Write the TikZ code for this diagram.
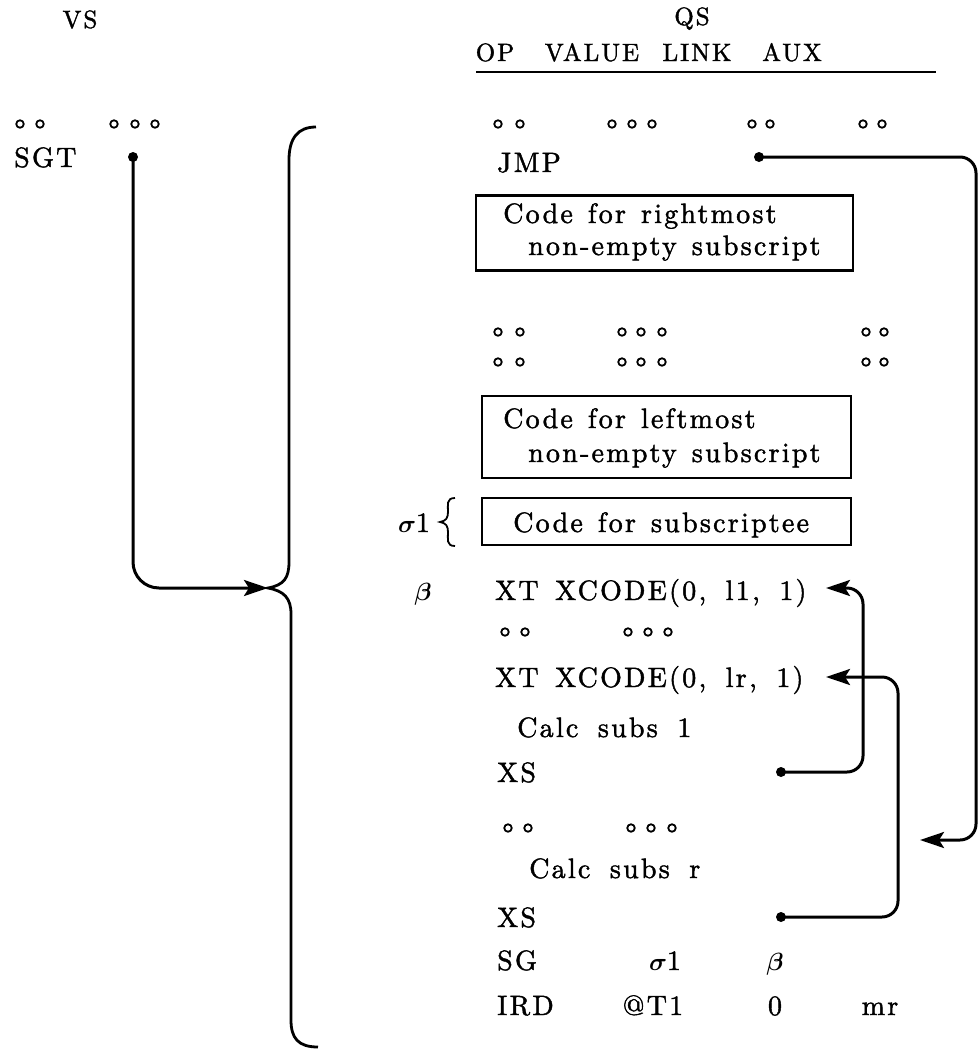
\documentclass[tikz,border=0pt]{standalone}
\usepackage{fontspec}
\setmainfont{lmroman10-regular.otf}[LetterSpace=8,WordSpace=1.3,FakeBold=1.5]
\usetikzlibrary{arrows.meta}
\begin{document}
\begin{tikzpicture}[x=1pt,y=-1pt,
  txt/.style={inner sep=0pt, font=\fontsize{28}{32}\selectfont\boldmath, anchor=base},
  txl/.style={txt, anchor=base west},
  hdr/.style={inner sep=0pt, font=\fontsize{25}{30}\selectfont, anchor=base},
  dotc/.style={circle, draw, fill=white, line width=1.8pt, inner sep=0pt, minimum size=7.5pt},
  blob/.style={circle, fill=black, inner sep=0pt, minimum size=10pt},
  boxst/.style={draw, line width=2.3pt, inner sep=0pt},
  conn/.style={line width=3pt},
  tip/.style={-{Stealth[length=24pt,width=16pt,inset=5pt]}}]
\useasboundingbox (0,0) rectangle (980,1050);

% headers
\node[hdr] (vs) at (80,28) {VS};
\node[hdr] (qs) at (692,25) {QS};
\node[hdr] (hop) at (495,61) {OP};
\node[hdr] (hval) at (592,61) {VALUE};
\node[hdr] (hlink) at (697,61) {LINK};
\node[hdr] (haux) at (792,61) {AUX};
\draw[line width=2pt] (476,72) -- (936,72);

% dot rows
\foreach \x [count=\i] in {20,40,114,135,155,498,520,612,632,652,752,770,863,882}
  \node[dotc] (da\i) at (\x,124) {};
\foreach \x [count=\i] in {498,520,622,641,662,866,884}
  {\node[dotc] (db\i) at (\x,332) {};
   \node[dotc] (dc\i) at (\x,362) {};}
\foreach \x [count=\i] in {505,525,628,648,668}
  \node[dotc] (dd\i) at (\x,632) {};
\foreach \x [count=\i] in {508,528,631,651,672}
  \node[dotc] (de\i) at (\x,828) {};

% VS entries
\node[txl] (sgt) at (14,167) {SGT};
\node[blob] (sgtd) at (133,157) {};

% QS entries
\node[txl] (jmp) at (497,172) {JMP};
\node[blob] (jd) at (759,157) {};

\node[boxst, minimum width=377pt, minimum height=75pt] (b1) at (664.5,233) {};
\node[txl] (b1a) at (503,223) {Code for rightmost};
\node[txl] (b1b) at (528,255) {non-empty subscript};

\node[boxst, minimum width=369pt, minimum height=82pt] (b2) at (666.5,437) {};
\node[txl] (b2a) at (503,428) {Code for leftmost};
\node[txl] (b2b) at (528,462) {non-empty subscript};

\node[boxst, minimum width=369pt, minimum height=47pt] (b3) at (666.5,521.5) {};
\node[txl] (b3a) at (513,532) {Code for subscriptee};
\node[txt] (sig) at (414,532) {$\sigma$1};
\draw[line width=1.8pt] (455,498) .. controls (446,498) and (448,505) .. (448,512)
  .. controls (448,518) and (446,521) .. (440,522)
  .. controls (446,523) and (448,526) .. (448,532)
  .. controls (448,539) and (446,546) .. (455,546);

\node[txt] (beta) at (423,600) {$\beta$};
\node[txl] (xt1) at (495,600) {XT};
\node[txl] (xc1) at (555,600) {XCODE(0, l1, 1)};
\node[txl] (xt2) at (495,687) {XT};
\node[txl] (xc2) at (555,687) {XCODE(0, lr, 1)};
\node[txl] (cs1) at (517,737) {Calc subs 1};
\node[txl] (xs1) at (497,782) {XS};
\node[blob] (x1d) at (781,772) {};
\node[txl] (csr) at (529,878) {Calc subs r};
\node[txl] (xs2) at (497,927) {XS};
\node[blob] (x2d) at (781,917) {};
\node[txl] (sg) at (497,970) {SG};
\node[txt] (sgv) at (665,970) {$\sigma$1};
\node[txt] (sgl) at (775,970) {$\beta$};
\node[txl] (ird) at (497,1015) {IRD};
\node[txt] (irv) at (653,1015) {@T1};
\node[txt] (irl) at (775,1015) {0};
\node[txt] (ira) at (880,1015) {mr};

% big brace
\coordinate (bt) at (268,588);
\draw[line width=2.8pt] (316,127) .. controls (298,127) and (289,138) .. (289,160)
  -- (289,562) .. controls (289,578) and (284,585) .. (bt)
  .. controls (284,591) and (291,598) .. (291,614)
  -- (291,1020) .. controls (291,1038) and (298,1047) .. (318,1047);

% connectors
\draw[conn, tip] (sgtd.center) [rounded corners=26pt] |- (bt);

\coordinate (r1) at (976,840);
\coordinate (ja) at (920,840);
\draw[conn, tip] (jd.center) [rounded corners=16pt] -| (r1) [sharp corners] -- (ja);

\coordinate (v1) at (863,588);
\coordinate (a1) at (826,588);
\draw[conn, tip] (x1d.center) [rounded corners=16pt] -| (v1) [sharp corners] -- (a1);

\coordinate (v2) at (898,677);
\coordinate (a2) at (826,677);
\draw[conn, tip] (x2d.center) [rounded corners=16pt] -| (v2) -- (a2);
\end{tikzpicture}
\end{document}
